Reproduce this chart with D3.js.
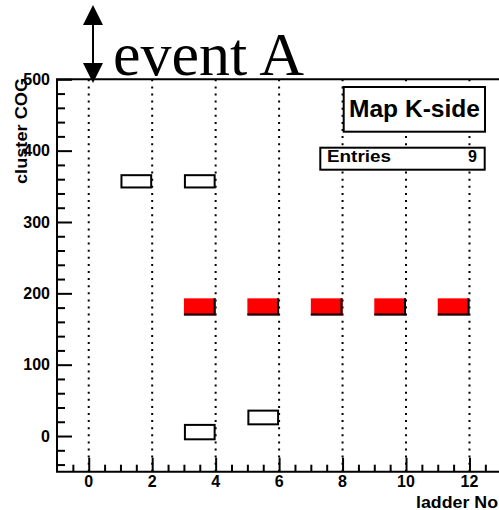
<!DOCTYPE html>
<html>
<head>
<meta charset="utf-8">
<script src="https://cdn.jsdelivr.net/npm/d3@7"></script>
<style>
  html, body { margin: 0; padding: 0; background: #fff; overflow: hidden; }
  svg { display: block; }
  .lbl { font-family: "Liberation Sans", Arial, Helvetica, sans-serif; font-weight: bold; fill: #000; }
</style>
</head>
<body>
<script>
// Hit clusters on the K-side: ladder bin (low edge) and COG range of each box
const clusterLadder = [1, 3, 3, 5];
const clusterCogLow = [347, 347, -6, 15];
const clusterCogHigh = [367, 367, 17, 37];

// Selected (highlighted) clusters of event A
const eventLadder = [3, 5, 7, 9, 11];
const eventCogLow = [169, 169, 169, 169, 169];
const eventCogHigh = [193, 193, 193, 193, 193];

// Axis ticks and labels
const xTicks = [0, 2, 4, 6, 8, 10, 12];
const yTicks = [0, 100, 200, 300, 400, 500];
const xDomain = [-1, 13];
const yDomain = [-50, 500];
const histTitle = "Map K-side";
const entriesLabel = "Entries";
const entries = clusterLadder.length + eventLadder.length;
const xTitle = "ladder No";
const yTitle = "cluster COG";
const eventTitle = "event A";

const W = 499, H = 510;
const frame = { left: 57, top: 79.3, right: 501.2, bottom: 471.7 };

const svg = d3.select("body").append("svg").attr("width", W).attr("height", H);

const x = d3.scaleLinear().domain(xDomain).range([frame.left, frame.right]);
const y = d3.scaleLinear().domain(yDomain).range([frame.bottom, frame.top]);

// Vertical dotted grid at the major ladder ticks
svg.append("g").selectAll("line").data(xTicks).join("line")
  .attr("x1", d => x(d)).attr("x2", d => x(d))
  .attr("y1", frame.top).attr("y2", frame.bottom)
  .attr("stroke", "#000").attr("stroke-width", 2)
  .attr("stroke-dasharray", "2,5.1");

// Open boxes: all clusters
svg.append("g").selectAll("rect").data(clusterLadder.map((l, i) => ({ l, lo: clusterCogLow[i], hi: clusterCogHigh[i] })))
  .join("rect")
  .attr("x", d => x(d.l) + 1).attr("width", d => x(d.l + 1) - x(d.l) - 2)
  .attr("y", d => y(d.hi) + 1).attr("height", d => y(d.lo) - y(d.hi) - 2)
  .attr("fill", "none").attr("stroke", "#000").attr("stroke-width", 2);

// Filled boxes with a dark edge on the right and bottom
const ev = svg.append("g").selectAll("g").data(eventLadder.map((l, i) => ({ l, lo: eventCogLow[i], hi: eventCogHigh[i] })))
  .join("g");
ev.append("rect")
  .attr("x", d => x(d.l)).attr("width", d => x(d.l + 1) - x(d.l))
  .attr("y", d => y(d.hi)).attr("height", d => y(d.lo) - y(d.hi))
  .attr("fill", "#ff0000");
ev.append("path")
  .attr("d", d => `M${x(d.l)},${y(d.lo) - 1}H${x(d.l + 1) - 1}V${y(d.hi)}`)
  .attr("fill", "none").attr("stroke", "#000").attr("stroke-width", 2);

// Frame
svg.append("path")
  .attr("d", `M${frame.right},${frame.top}H${frame.left}V${frame.bottom}H${frame.right}`)
  .attr("fill", "none").attr("stroke", "#000").attr("stroke-width", 2);

// X axis: ticks pointing inward
const xAxis = d3.axisTop(x).tickValues(d3.range(-0.5, 13.01, 0.5))
  .tickSize(7).tickFormat("");
svg.append("g").attr("transform", `translate(0,${frame.bottom})`).call(xAxis)
  .call(g => g.select(".domain").remove())
  .call(g => g.selectAll(".tick line")
    .attr("stroke-width", 2)
    .attr("y2", d => (Number.isInteger(d / 2) ? -14 : -7)));
svg.append("g").selectAll("text").data(xTicks).join("text")
  .attr("class", "lbl").attr("x", d => x(d)).attr("y", 487)
  .attr("text-anchor", "middle").attr("font-size", 16)
  .text(d => d);

// Y axis: ticks pointing inward
const yAxis = d3.axisRight(y).tickValues(d3.range(-40, 500.1, 20))
  .tickSize(8).tickFormat("");
svg.append("g").attr("transform", `translate(${frame.left},0)`).call(yAxis)
  .call(g => g.select(".domain").remove())
  .call(g => g.selectAll(".tick line")
    .attr("stroke-width", 2)
    .attr("x2", d => (d % 100 === 0 ? 15 : 8)));
svg.append("g").selectAll("text").data(yTicks).join("text")
  .attr("class", "lbl").attr("x", 50).attr("y", d => y(d))
  .attr("dy", "0.36em")
  .attr("text-anchor", "end").attr("font-size", 16)
  .text(d => d);

// Axis titles
svg.append("text").attr("class", "lbl")
  .attr("x", 498).attr("y", 508).attr("text-anchor", "end")
  .attr("font-size", 16).attr("textLength", 82).attr("lengthAdjust", "spacingAndGlyphs")
  .text(xTitle);
svg.append("text").attr("class", "lbl")
  .attr("transform", "translate(27,78) rotate(-90)")
  .attr("text-anchor", "end").attr("font-size", 16)
  .attr("textLength", 106).attr("lengthAdjust", "spacingAndGlyphs")
  .text(yTitle);

// Histogram title box
svg.append("rect").attr("x", 343.7).attr("y", 87).attr("width", 141.3).attr("height", 44.7)
  .attr("fill", "#fff").attr("stroke", "#000").attr("stroke-width", 2);
svg.append("text").attr("class", "lbl")
  .attr("x", 414.5).attr("y", 117).attr("text-anchor", "middle")
  .attr("font-size", 23).attr("textLength", 131).attr("lengthAdjust", "spacingAndGlyphs")
  .text(histTitle);

// Statistics box
svg.append("rect").attr("x", 320.3).attr("y", 147.7).attr("width", 164.4).attr("height", 22)
  .attr("fill", "#fff").attr("stroke", "#000").attr("stroke-width", 2);
svg.append("text").attr("class", "lbl")
  .attr("x", 327).attr("y", 162).attr("font-size", 16)
  .attr("textLength", 64).attr("lengthAdjust", "spacingAndGlyphs")
  .text(entriesLabel);
svg.append("text").attr("class", "lbl")
  .attr("x", 477).attr("y", 162).attr("text-anchor", "end").attr("font-size", 16)
  .text(entries);

// Event label with a double-headed arrow
const arrowX = 93;
svg.append("line").attr("x1", arrowX).attr("x2", arrowX).attr("y1", 20).attr("y2", 68)
  .attr("stroke", "#000").attr("stroke-width", 2);
svg.append("path").attr("d", `M${arrowX},5L${arrowX - 10},25L${arrowX + 10},25Z`).attr("fill", "#000");
svg.append("path").attr("d", `M${arrowX},83L${arrowX - 10},63L${arrowX + 10},63Z`).attr("fill", "#000");
svg.append("text")
  .attr("x", 113).attr("y", 75)
  .attr("font-family", "'Liberation Serif', 'Times New Roman', Times, serif")
  .attr("font-size", 62).attr("fill", "#000")
  .text(eventTitle);
</script>
</body>
</html>
